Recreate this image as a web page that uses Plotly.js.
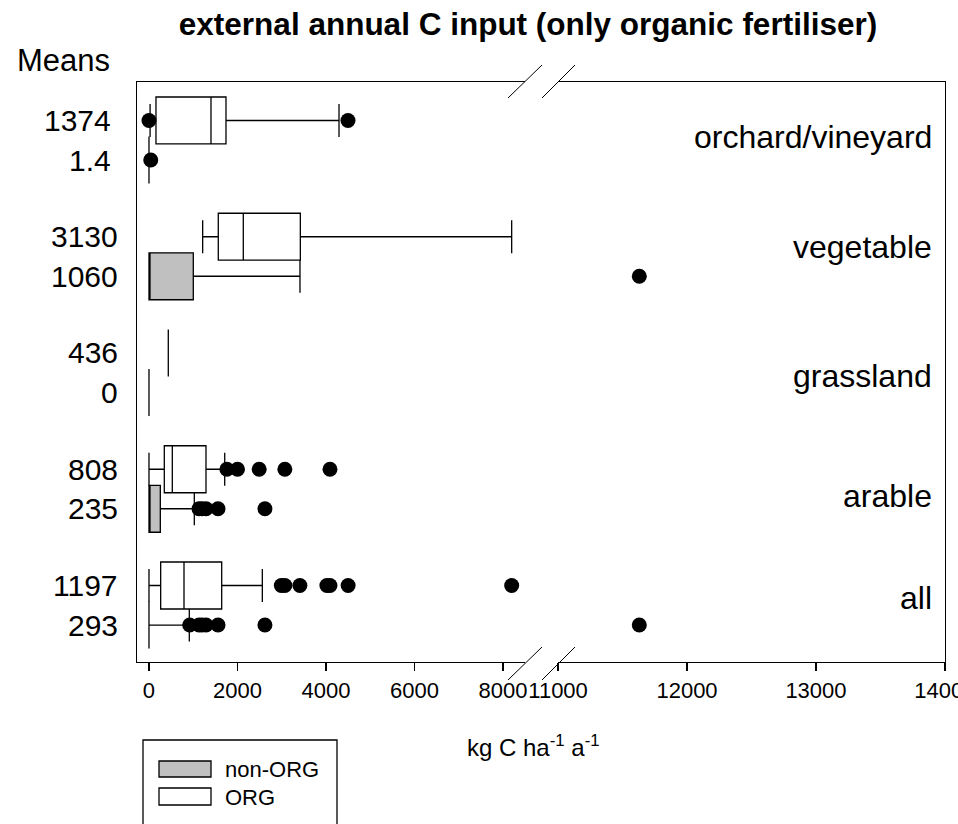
<!DOCTYPE html>
<html><head><meta charset="utf-8">
<script src="https://cdn.plot.ly/plotly-3.0.1.min.js"></script>
<style>html,body{margin:0;padding:0;background:#fff}#chart{width:958px;height:824px}</style>
</head><body><div id="chart"></div>
<script>
// ---------- data ----------
const categories = ['orchard/vineyard', 'vegetable', 'grassland', 'arable', 'all'];
const meansORG = ['1374', '3130', '436', '808', '1197'];
const meansNonORG = ['1.4', '1060', '0', '235', '293'];

// ORG boxes (kg C ha-1 a-1)
const orgQ1 = [158, 1566, 436, 346, 264];
const orgMedian = [1401, 2131, 436, 527, 791];
const orgQ3 = [1740, 3420, 436, 1288, 1643];
const orgLowerFence = [25, 1213, 436, 0, 0];
const orgUpperFence = [4294, 8196, 436, 1711, 2561];
const orgOutliers = [[0, 4497], [], [], [1760, 2000, 2490, 3070, 4090], [2990, 3070, 3410, 4020, 4090, 4500, 8196]];
const orgOutliersHigh = [[], [], [], [], []];

// non-ORG boxes
const nonQ1 = [0, 0, 0, 0, 0];
const nonMedian = [0, 0, 0, 0, 0];
const nonQ3 = [0, 1001, 0, 256, 0];
const nonLowerFence = [0, 0, 0, 0, 0];
const nonUpperFence = [0, 3412, 0, 1024, 911];
const nonOutliers = [[40], [], [], [1130, 1200, 1290, 1560, 2620], [920, 1130, 1200, 1290, 1560, 2620]];
const nonOutliersHigh = [[], [11630], [], [], [11630]];

const xTicksLow = [0, 2000, 4000, 6000, 8000];
const xTicksHigh = [11000, 12000, 13000, 14000];

// ---------- layout helpers ----------
const W = 958, H = 824;
const L = 137, R = 945, T = 82, B = 662;
const px = x => (x - L) / (R - L);
const py = y => (B - y) / (B - T);
const FONT = 'Liberation Sans, Arial, Helvetica, sans-serif';

const nCat = categories.length;
const catPos = categories.map((c, i) => nCat - 1 - i);
const OFF = 0.17;
const posORG = catPos.map(p => p + OFF);
const posNon = catPos.map(p => p - OFF);
const labelShift = [0.028, 0.082, -0.028, -0.06, 0.062];

const boxLine = {color: '#000000', width: 1.3};
function boxTrace(pos, q1, med, q3, lo, hi, fill, name) {
  return {type: 'box', orientation: 'h', y: pos, q1: q1, median: med, q3: q3,
    lowerfence: lo, upperfence: hi, width: 0.404, whiskerwidth: 0.7,
    fillcolor: fill, line: boxLine, boxpoints: false, name: name,
    xaxis: 'x', yaxis: 'y', hoverinfo: 'skip', showlegend: false};
}
function pointTrace(lists, pos, xa, ya) {
  const xs = [], ys = [];
  lists.forEach((arr, i) => arr.forEach(v => { xs.push(v); ys.push(pos[i]); }));
  return {type: 'scatter', mode: 'markers', x: xs, y: ys, xaxis: xa, yaxis: ya,
    marker: {color: '#000000', size: 15, line: {width: 0}}, hoverinfo: 'skip', showlegend: false, cliponaxis: false};
}

const data = [
  boxTrace(posNon, nonQ1, nonMedian, nonQ3, nonLowerFence, nonUpperFence, '#c0c0c0', 'non-ORG'),
  boxTrace(posORG, orgQ1, orgMedian, orgQ3, orgLowerFence, orgUpperFence, '#ffffff', 'ORG'),
  pointTrace(orgOutliers, posORG, 'x', 'y'),
  pointTrace(nonOutliers, posNon, 'x', 'y'),
  pointTrace(orgOutliersHigh, posORG, 'x2', 'y2'),
  pointTrace(nonOutliersHigh, posNon, 'x2', 'y2')
];

const axisCommon = {showline: true, linecolor: '#000', linewidth: 1.3, mirror: true,
  ticks: 'outside', ticklen: 8, tickwidth: 1.3, tickcolor: '#000', showgrid: false, zeroline: false,
  tickformat: 'd', ticklabeloverflow: 'allow',
  tickfont: {family: FONT, size: 22, color: '#000'}, fixedrange: true};

const annotations = [];
categories.forEach((c, i) => {
  annotations.push({xref: 'paper', yref: 'y', x: px(i === 0 ? 113 : 120), y: posORG[i], xanchor: 'right', yanchor: 'middle',
    text: meansORG[i], showarrow: false, font: {family: FONT, size: 30, color: '#000'}});
  annotations.push({xref: 'paper', yref: 'y', x: px(i === 0 ? 113 : 120), y: posNon[i], xanchor: 'right', yanchor: 'middle',
    text: meansNonORG[i], showarrow: false, font: {family: FONT, size: 30, color: '#000'}});
  annotations.push({xref: 'paper', yref: 'y', x: px(934), y: catPos[i] + labelShift[i], xanchor: 'right', yanchor: 'middle',
    text: c, showarrow: false, font: {family: FONT, size: 32, color: '#000'}});
});
annotations.push({xref: 'paper', yref: 'paper', x: px(15), y: py(61), xanchor: 'left', yanchor: 'middle',
  text: 'Means', showarrow: false, font: {family: FONT, size: 31, color: '#000'}});
annotations.push({xref: 'paper', yref: 'paper', x: px(533), y: py(746), xanchor: 'center', yanchor: 'middle',
  text: 'kg C ha<sup>-1</sup> a<sup>-1</sup>', showarrow: false, font: {family: FONT, size: 24, color: '#000'}});
annotations.push({xref: 'paper', yref: 'paper', x: px(223), y: py(769), xanchor: 'left', yanchor: 'middle',
  text: 'non-ORG', showarrow: false, font: {family: FONT, size: 22, color: '#000'}});
annotations.push({xref: 'paper', yref: 'paper', x: px(223), y: py(797), xanchor: 'left', yanchor: 'middle',
  text: 'ORG', showarrow: false, font: {family: FONT, size: 22, color: '#000'}});

function seg(x0, y0, x1, y1) {
  return {type: 'line', xref: 'paper', yref: 'paper', x0: px(x0), y0: py(y0), x1: px(x1), y1: py(y1),
    line: {color: '#000', width: 1}};
}
const shapes = [
  seg(508, 98, 542, 65), seg(542, 98, 575, 65),
  seg(508, 680, 542, 647), seg(542, 680, 575, 647),
  {type: 'rect', xref: 'paper', yref: 'paper', x0: px(143), y0: py(740), x1: px(337), y1: py(840),
    line: {color: '#000', width: 1.3}, fillcolor: 'rgba(0,0,0,0)'},
  {type: 'rect', xref: 'paper', yref: 'paper', x0: px(159), y0: py(761), x1: px(211), y1: py(777),
    line: {color: '#000', width: 1.3}, fillcolor: '#c0c0c0'},
  {type: 'rect', xref: 'paper', yref: 'paper', x0: px(159), y0: py(788), x1: px(211), y1: py(805),
    line: {color: '#000', width: 1.3}, fillcolor: '#ffffff'}
];

const layout = {
  width: W, height: H, paper_bgcolor: '#fff', plot_bgcolor: '#fff',
  margin: {l: L, r: W - R, t: T, b: H - B, pad: 0},
  showlegend: false,
  title: {text: '<b>external annual C input (only organic fertiliser)</b>', x: 528 / W, xanchor: 'center',
    y: 1 - 24 / H, yanchor: 'middle', yref: 'container', font: {family: FONT, size: 31.5, color: '#000'}},
  xaxis: Object.assign({}, axisCommon, {domain: [0, px(525)], range: [-271, 8497], tickvals: xTicksLow, anchor: 'y'}),
  xaxis2: Object.assign({}, axisCommon, {domain: [px(558), 1], range: [10999.5, 14000.5], tickvals: xTicksHigh, anchor: 'y2'}),
  yaxis: {domain: [0, 1], range: [-0.488, 4.501], showline: true, linecolor: '#000', linewidth: 1.3,
    showticklabels: false, ticks: '', showgrid: false, zeroline: false, anchor: 'x', fixedrange: true},
  yaxis2: {domain: [0, 1], matches: 'y', range: [-0.488, 4.501], showline: true, linecolor: '#000', linewidth: 1.3,
    side: 'right', showticklabels: false, ticks: '', showgrid: false, zeroline: false, anchor: 'x2', fixedrange: true},
  boxmode: 'overlay',
  annotations: annotations,
  shapes: shapes
};

Plotly.newPlot('chart', data, layout, {staticPlot: true, displayModeBar: false});
</script>
</body></html>
